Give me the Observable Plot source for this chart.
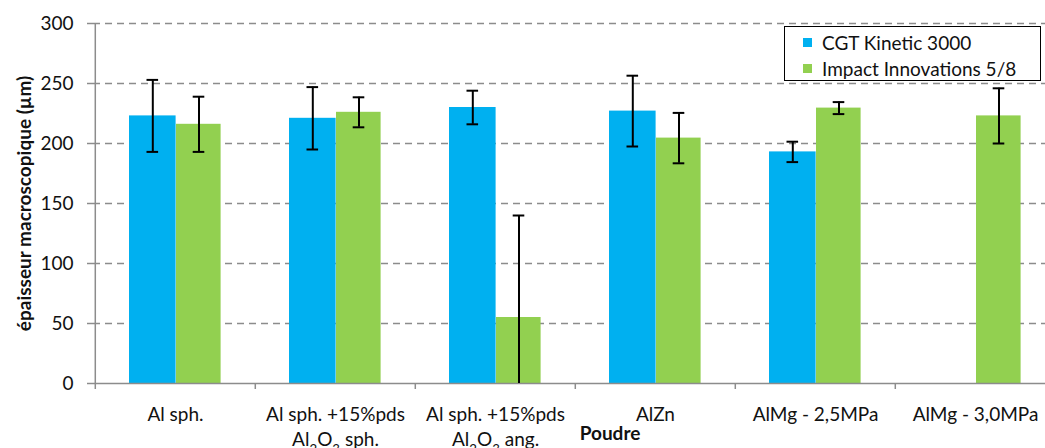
<!DOCTYPE html>
<html>
<head>
<meta charset="utf-8">
<script src="https://cdn.jsdelivr.net/npm/d3@7"></script>
<script src="https://cdn.jsdelivr.net/npm/@observablehq/plot@0.6"></script>
<style>
  html, body { margin: 0; padding: 0; background: #fff; overflow: hidden; }
  #wrap { position: relative; width: 1045px; height: 448px; overflow: hidden; font-family: Lato, "Open Sans", sans-serif; }
  #chart svg { max-width: none !important; display: block; }
  #legend { position: absolute; left: 784px; top: 26px; width: 255px; height: 53px; border: 1px solid #000; background: #fff; box-sizing: content-box; }
  .item { position: absolute; left: 18px; height: 20px; display: flex; align-items: center; font-size: 19px; color: #111; }
  .sw { width: 9px; height: 9px; margin-right: 10px; }
</style>
</head>
<body>
<div id="wrap"><div id="chart"></div><div id="legend"></div></div>
<script>
const categories = ["Al sph.", "Al sph. +15%pds\nAl2O3 sph.", "Al sph. +15%pds\nAl2O3 ang.", "AlZn", "AlMg - 2,5MPa", "AlMg - 3,0MPa"];
const series = ["CGT Kinetic 3000", "Impact Innovations 5/8"];
const cgtValues = [223, 221, 230, 227, 193, 0];
const cgtErrors = [30, 26, 14, 29.5, 8.5, null];
const impactValues = [216, 226, 55, 204.5, 229.5, 223];
const impactErrors = [23, 12.5, 85, 21, 5, 23];
const yTicks = [0, 50, 100, 150, 200, 250, 300];
const colors = ["#00B0F0", "#92D050"];

const cgtRows = categories.map((c, i) => ({cat: c, value: cgtValues[i], err: cgtErrors[i]}));
const impRows = categories.map((c, i) => ({cat: c, value: impactValues[i], err: impactErrors[i]}));
const cgtErr = cgtRows.filter(d => d.err != null);
const impErr = impRows.filter(d => d.err != null);

const grid = "#8c8c8c";
const fs = 19;
const band = 160.4;
const capInset = (band - 12) / 2;

const chart = Plot.plot({
  width: 1056,
  height: 448,
  marginLeft: 93,
  marginRight: 0,
  marginTop: 23,
  marginBottom: 65,
  style: {fontFamily: "Lato, 'Open Sans', sans-serif", color: "#111", background: "transparent", maxWidth: "none"},
  x: {domain: categories, padding: 0, axis: null},
  y: {domain: [0, 300], axis: null},
  marks: [
    Plot.ruleY(yTicks.filter(t => t > 0), {stroke: grid, strokeWidth: 1.5, strokeDasharray: "7,5"}),
    Plot.barY(cgtRows, {x: "cat", y: "value", fill: colors[0], insetLeft: 34, insetRight: 79.4}),
    Plot.barY(impRows, {x: "cat", y: "value", fill: colors[1], insetLeft: 81, insetRight: 34.4}),
    Plot.ruleY([0], {stroke: grid, strokeWidth: 1.5}),
    Plot.ruleX([categories[0]], {x: d => d, y1: 0, y2: 300, dx: -band / 2, stroke: grid, strokeWidth: 1.5}),
    Plot.ruleX(cgtErr, {x: "cat", y1: d => d.value - d.err, y2: d => d.value + d.err, dx: -22.7, stroke: "#000", strokeWidth: 2, clip: true}),
    Plot.ruleX(impErr, {x: "cat", y1: d => d.value - d.err, y2: d => d.value + d.err, dx: 23.5, stroke: "#000", strokeWidth: 2, clip: true}),
    Plot.tickY(cgtErr, {x: "cat", y: d => d.value + d.err, dx: -22.7, insetLeft: capInset, insetRight: capInset, stroke: "#000", strokeWidth: 2, clip: true}),
    Plot.tickY(cgtErr, {x: "cat", y: d => d.value - d.err, dx: -22.7, insetLeft: capInset, insetRight: capInset, stroke: "#000", strokeWidth: 2, clip: true}),
    Plot.tickY(impErr, {x: "cat", y: d => d.value + d.err, dx: 23.5, insetLeft: capInset, insetRight: capInset, stroke: "#000", strokeWidth: 2, clip: true}),
    Plot.tickY(impErr, {x: "cat", y: d => d.value - d.err, dx: 23.5, insetLeft: capInset, insetRight: capInset, stroke: "#000", strokeWidth: 2, clip: true}),
    Plot.axisY({ticks: yTicks, tickSize: 6, tickPadding: 14, fontSize: fs, stroke: grid, strokeWidth: 1.5, label: null}),
    Plot.axisX({tickSize: 6, tickFormat: () => "", dx: -band / 2, stroke: grid, strokeWidth: 1.5, label: null}),
    Plot.axisX({tickSize: 0, tickPadding: 20, fontSize: fs, lineHeight: 1.3, label: null}),
    Plot.text(["épaisseur macroscopique (µm)"], {frameAnchor: "left", textAnchor: "middle", dx: -69, rotate: -90, fontWeight: "bold", fontSize: fs}),
    Plot.text(["Poudre"], {frameAnchor: "bottom", dx: 35, dy: 56, fontWeight: "bold", fontSize: fs})
  ]
});
document.getElementById("chart").appendChild(chart);

// subscripts for Al2O3
chart.querySelectorAll("text, tspan").forEach(el => {
  if (el.children.length === 0 && el.textContent.includes("Al2O3")) {
    const rest = el.textContent.replace("Al2O3", "");
    el.textContent = "";
    const ns = "http://www.w3.org/2000/svg";
    const parts = [["Al", false], ["2", true], ["O", false], ["3", true], [rest, false]];
    for (const [t, sub] of parts) {
      if (sub) {
        const s = document.createElementNS(ns, "tspan");
        s.setAttribute("baseline-shift", "sub");
        s.setAttribute("font-size", "70%");
        s.textContent = t;
        el.appendChild(s);
      } else {
        el.appendChild(document.createTextNode(t));
      }
    }
  }
});

const legend = document.getElementById("legend");
series.forEach((s, i) => {
  const it = document.createElement("div");
  it.className = "item";
  it.style.top = (i === 0 ? 5 : 31) + "px";
  const sw = document.createElement("div");
  sw.className = "sw";
  sw.style.background = colors[i];
  const tx = document.createElement("span");
  tx.textContent = s;
  it.appendChild(sw);
  it.appendChild(tx);
  legend.appendChild(it);
});
</script>
</body>
</html>
